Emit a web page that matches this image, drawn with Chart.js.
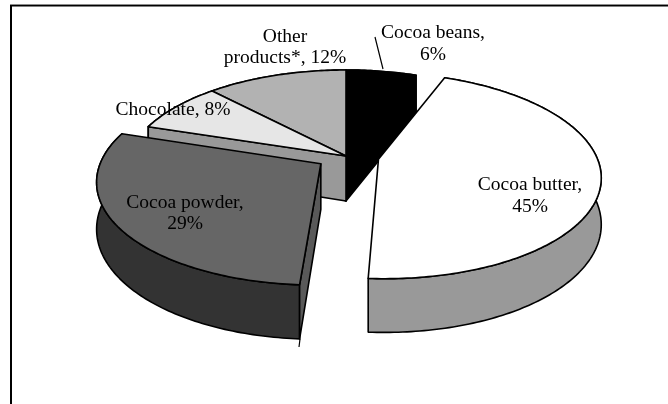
<!DOCTYPE html>
<html lang="en">
<head>
  <meta charset="UTF-8" />
  <title>Cocoa exports</title>
  <style>
    html, body {
      margin: 0;
      padding: 0;
      background: #fff;
    }
    #chart {
      display: block;
    }
  </style>
  <script src="https://cdn.jsdelivr.net/npm/chart.js"></script>
</head>
<body>
  <canvas id="chart" width="668" height="404"></canvas>
  <script>
    const categories = ['Cocoa beans', 'Cocoa butter', 'Cocoa powder', 'Chocolate', 'Other products*'];
    const shares = [6, 45, 29, 8, 12];
    const topColors = ['#000000', '#ffffff', '#666666', '#e6e6e6', '#b2b2b2'];
    const sideColors = ['#000000', '#999999', '#333333', '#999999', '#999999'];
    const cutColors = ['#000000', '#999999', '#595959', '#999999', '#999999'];

    // perspective of the tilted disc, in pixels
    const view = { rx: 218, ry: 99.5, depth: 45, tilt: 0.157 };

    // slice text, one entry per line: [text, centre x, baseline y]
    const labelLines = [
      ['Cocoa beans,', 433, 38], ['6%', 433, 60],
      ['Cocoa butter,', 530, 190], ['45%', 530, 212],
      ['Cocoa powder,', 185, 208], ['29%', 185, 229],
      ['Chocolate, 8%', 173, 115],
      ['Other', 285, 42], ['products*, 12%', 285, 63]
    ];

    function project(arc, u, v, h) {
      const s = 1 / (1 - view.tilt * v);
      return { x: arc.x + view.rx * u * s, y: arc.y + (view.ry * v + h) * s };
    }

    // unit disc position of a rim point, shifted by the slice's explode offset
    function discPoint(arc, angle, radius) {
      const mid = (arc.startAngle + arc.endAngle) / 2;
      const off = arc.options.offset / arc.outerRadius;
      return {
        u: radius * Math.cos(angle) + off * Math.cos(mid),
        v: radius * Math.sin(angle) + off * Math.sin(mid)
      };
    }

    function rimAngles(arc) {
      const steps = Math.ceil((arc.endAngle - arc.startAngle) * 60);
      const out = [];
      for (let i = 0; i <= steps; i++) {
        out.push(arc.startAngle + (arc.endAngle - arc.startAngle) * i / steps);
      }
      return out;
    }

    function tracePath(ctx, points, fill) {
      ctx.beginPath();
      points.forEach((p, i) => i ? ctx.lineTo(p.x, p.y) : ctx.moveTo(p.x, p.y));
      ctx.closePath();
      ctx.fillStyle = fill;
      ctx.fill();
      ctx.stroke();
    }

    function drawWalls(ctx, arc, index) {
      const top = rimAngles(arc).map(a => {
        const d = discPoint(arc, a, 1);
        return project(arc, d.u, d.v, 0);
      });
      const bottom = rimAngles(arc).reverse().map(a => {
        const d = discPoint(arc, a, 1);
        return project(arc, d.u, d.v, view.depth);
      });
      tracePath(ctx, top.concat(bottom), sideColors[index]);

      // only the straight cuts turned towards the viewer get a wall
      const apex = discPoint(arc, 0, 0);
      [[arc.startAngle, -1], [arc.endAngle, 1]].forEach(([a, side]) => {
        if (Math.sin(a + side * Math.PI / 2) <= 0) return;
        const d = discPoint(arc, a, 1);
        tracePath(ctx, [
          project(arc, apex.u, apex.v, 0),
          project(arc, d.u, d.v, 0),
          project(arc, d.u, d.v, view.depth),
          project(arc, apex.u, apex.v, view.depth)
        ], cutColors[index]);
      });
    }

    function drawTop(ctx, arc) {
      const apex = discPoint(arc, 0, 0);
      const points = [project(arc, apex.u, apex.v, 0)];
      rimAngles(arc).forEach(a => {
        const d = discPoint(arc, a, 1);
        points.push(project(arc, d.u, d.v, 0));
      });
      tracePath(ctx, points, arc.options.backgroundColor);
    }

    const pie3d = {
      id: 'pie3d',
      beforeDraw(chart) {
        const ctx = chart.ctx;
        ctx.save();
        ctx.fillStyle = '#8c8c8c';
        ctx.fillRect(10, 4, 658, 1);
        ctx.fillStyle = '#000';
        ctx.fillRect(10, 5, 658, 1.5);
        ctx.fillRect(10, 5, 2, 399);
        ctx.restore();
      },
      beforeDatasetsDraw(chart) {
        const ctx = chart.ctx;
        const arcs = chart.getDatasetMeta(0).data;
        ctx.save();
        ctx.strokeStyle = '#000';
        ctx.lineWidth = 1.6;
        ctx.lineJoin = 'round';
        // far slices first, the two pulled out slices sit in front of them
        [[0, 4, 3], [1], [2]].forEach(group => {
          group.forEach(i => drawWalls(ctx, arcs[i], i));
          group.forEach(i => drawTop(ctx, arcs[i]));
        });
        ctx.restore();
        return false;
      },
      afterDraw(chart) {
        const ctx = chart.ctx;
        ctx.save();
        // leader of the beans label and the overshoot under the powder cut
        ctx.strokeStyle = '#000';
        ctx.lineWidth = 1.2;
        ctx.beginPath();
        ctx.moveTo(375, 37);
        ctx.lineTo(383, 69);
        ctx.moveTo(300, 339);
        ctx.lineTo(299, 347);
        ctx.stroke();

        ctx.fillStyle = '#000';
        ctx.font = '19.5px "Liberation Serif", serif';
        ctx.textAlign = 'center';
        ctx.textBaseline = 'alphabetic';
        labelLines.forEach(([text, x, y]) => ctx.fillText(text, x, y));
        ctx.restore();
      }
    };

    new Chart(document.getElementById('chart'), {
      type: 'pie',
      data: {
        labels: categories,
        datasets: [{
          data: shares,
          backgroundColor: topColors,
          borderColor: '#000',
          borderWidth: 0,
          offset: ctx => ctx.dataIndex === 1 ? 22 : ctx.dataIndex === 2 ? 20 : 0
        }]
      },
      options: {
        responsive: false,
        animation: false,
        layout: { padding: { left: 24, bottom: 92 } },
        plugins: {
          legend: { display: false },
          tooltip: { enabled: false }
        }
      },
      plugins: [pie3d]
    });
  </script>
</body>
</html>
